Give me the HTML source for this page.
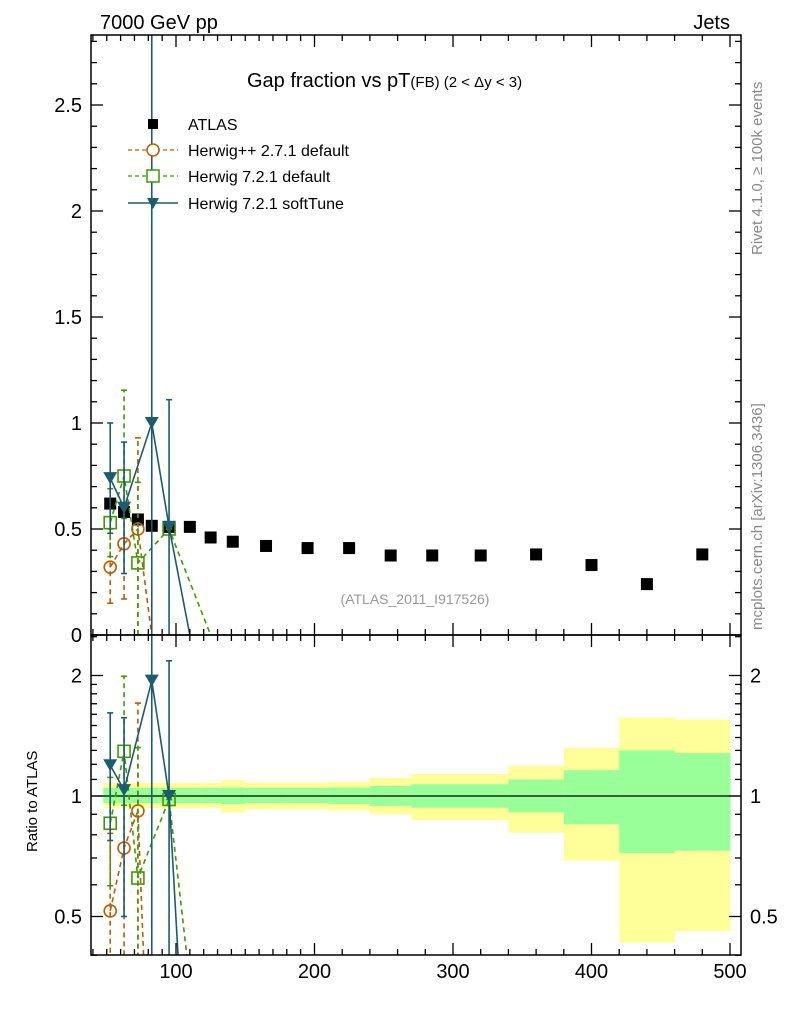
<!DOCTYPE html>
<html><head><meta charset="utf-8"><style>
html,body{margin:0;background:#fff;width:786px;height:1024px;overflow:hidden}
svg{display:block;font-family:"Liberation Sans",sans-serif}
</style></head><body>
<svg id="chart" width="786" height="1024" viewBox="0 0 786 1024" xmlns="http://www.w3.org/2000/svg">
<defs>
<clipPath id="cm"><rect x="91" y="35" width="650" height="600"/></clipPath>
<clipPath id="cr"><rect x="91" y="635" width="650" height="320"/></clipPath>
</defs>
<g id="bands" clip-path="url(#cr)"></g>
<g id="mainmarks" clip-path="url(#cm)"></g>
<g id="ratiomarks" clip-path="url(#cr)"></g>
<rect x="91" y="35" width="650" height="600" fill="none" stroke="#000" stroke-width="1.5"/>
<rect x="91" y="635" width="650" height="320" fill="none" stroke="#000" stroke-width="1.5"/>
<g id="ticks"></g>
<text x="100" y="29" font-size="20">7000 GeV pp</text>
<text x="730" y="29" font-size="20" text-anchor="end">Jets</text>
<text x="247" y="87" font-size="20">Gap fraction vs pT<tspan font-size="15">(FB)</tspan><tspan font-size="15"> (2 &lt; Δy &lt; 3)</tspan></text>
<text x="415" y="604" font-size="14" fill="#999" text-anchor="middle">(ATLAS_2011_I917526)</text>
<text transform="translate(762,255) rotate(-90)" font-size="15" fill="#888">Rivet 4.1.0, ≥ 100k events</text>
<text transform="translate(762,630) rotate(-90)" font-size="15" fill="#888">mcplots.cern.ch [arXiv:1306.3436]</text>
<text transform="translate(37,852) rotate(-90)" font-size="15">Ratio to ATLAS</text>
<g>
<rect x="148" y="119" width="10" height="10" fill="#000"/>
<text x="188" y="130" font-size="16">ATLAS</text>
<line x1="128" y1="150" x2="178" y2="150" stroke="#c05a00" stroke-dasharray="4,3" stroke-width="1.3"/>
<circle cx="153" cy="150" r="6" fill="#fff" stroke="#c05a00" stroke-width="1.5"/>
<text x="188" y="156" font-size="16">Herwig++ 2.7.1 default</text>
<line x1="128" y1="176" x2="178" y2="176" stroke="#3d9b00" stroke-dasharray="4,3" stroke-width="1.3"/>
<rect x="147" y="170" width="12" height="12" fill="#fff" stroke="#3d9b00" stroke-width="1.5"/>
<text x="188" y="182" font-size="16">Herwig 7.2.1 default</text>
<line x1="128" y1="203" x2="178" y2="203" stroke="#1d5b6f" stroke-width="1.5"/>
<polygon points="147,198 159,198 153,209" fill="#1d5b6f"/>
<text x="188" y="209" font-size="16">Herwig 7.2.1 softTune</text>
</g>
</svg>
<script>
// ---- data ----
const binEdges=[47.5,57.5,67.5,77.5,87.5,102.5,117.5,132.5,150,180,210,240,270,300,340,380,420,460,500];
const atlasX=[52.5,62.5,72.5,82.5,95,110,125,141,165,195,225,255,285,320,360,400,440,480];
const atlasY=[0.62,0.58,0.545,0.515,0.51,0.51,0.46,0.44,0.42,0.41,0.41,0.375,0.375,0.375,0.38,0.33,0.24,0.38];
const yellowUp=[1.078,1.078,1.078,1.078,1.078,1.078,1.078,1.095,1.08,1.08,1.085,1.11,1.135,1.135,1.19,1.32,1.57,1.55];
const yellowDn=[0.933,0.933,0.933,0.933,0.933,0.933,0.933,0.91,0.925,0.925,0.92,0.90,0.87,0.87,0.81,0.69,0.43,0.46];
const greenUp=[1.047,1.047,1.047,1.047,1.047,1.047,1.047,1.05,1.047,1.047,1.05,1.06,1.07,1.07,1.10,1.16,1.30,1.28];
const greenDn=[0.96,0.96,0.96,0.96,0.96,0.96,0.96,0.955,0.96,0.96,0.955,0.945,0.935,0.935,0.91,0.85,0.72,0.73];
const hppX=[52.5,62.5,72.5,82.5];
const hppY=[0.32,0.43,0.50,0.0];
const hppLo=[0.15,0.17,0.0,0.0];
const hppHi=[0.50,0.60,0.93,0.0];
const h7X=[52.5,62.5,72.5,95,125];
const h7Y=[0.53,0.75,0.34,0.50,0.0];
const h7Lo=[0.37,0.55,0.0,0.50,0.0];
const h7Hi=[0.69,1.155,0.72,0.50,0.0];
const stX=[52.5,62.5,82.5,95,110];
const stY=[0.74,0.60,1.0,0.51,0.0];
const stLo=[0.48,0.29,0.0,0.0,0.0];
const stHi=[1.0,0.91,3.0,1.11,0.0];
const yMainTicks=[0,0.5,1,1.5,2,2.5];
const yMainLabels=["0","0.5","1","1.5","2","2.5"];
const xTicks=[100,200,300,400,500];
const xLabels=["100","200","300","400","500"];
const rTicks=[0.5,1,2];
const rLabels=["0.5","1","2"];
// ---- axes ----
const X=v=>37.5+v*1.385;
const Ym=v=>635-v*212;
const Yr=v=>796-Math.log2(Math.max(v,0.12))*120.5;
const NS="http://www.w3.org/2000/svg";
function mk(tag,attrs,parent){const e=document.createElementNS(NS,tag);for(const k in attrs)e.setAttribute(k,attrs[k]);parent.appendChild(e);return e;}
const bands=document.getElementById('bands');
for(let i=0;i<binEdges.length-1;i++){
 const x1=X(binEdges[i]),x2=X(binEdges[i+1]);
 const y=mk('rect',{x:x1,y:Yr(yellowUp[i]),width:x2-x1+0.5,height:Yr(yellowDn[i])-Yr(yellowUp[i]),fill:'#ffff99'},bands);
 
 
 const g=mk('rect',{x:x1,y:Yr(greenUp[i]),width:x2-x1+0.5,height:Yr(greenDn[i])-Yr(greenUp[i]),fill:'#99ff99'},bands);
 
 
}
const unity=mk('line',{x1:91,x2:741,y1:Yr(1),y2:Yr(1),stroke:'#000','stroke-width':1.3},bands);


function atlasAt(x){return atlasY[atlasX.indexOf(x)];}
function drawSeries(parent,xs,ys,lo,hi,color,dash,marker,Yf,ratio,name){
 const g=mk('g',{},parent);
 
 
 const val=(v,i)=>ratio?v/atlasAt(xs[i]):v;
 const pts=xs.map((x,i)=>X(x)+','+Yf(val(ys[i],i))).join(' ');
 const pl=mk('polyline',{points:pts,fill:'none',stroke:color,'stroke-width':1.6},g);
 if(dash)pl.setAttribute('stroke-dasharray','5,4');
 xs.forEach((x,i)=>{
  if(ys[i]<=0)return;
  const cx=X(x),cy=Yf(val(ys[i],i)),a=Yf(val(lo[i],i)),b=Yf(val(hi[i],i));
  const eb=mk('line',{x1:cx,x2:cx,y1:a,y2:b,stroke:color,'stroke-width':1.6},g);
  if(dash)eb.setAttribute('stroke-dasharray','5,4');
  mk('line',{x1:cx-3,x2:cx+3,y1:a,y2:a,stroke:color,'stroke-width':1.6},g);
  mk('line',{x1:cx-3,x2:cx+3,y1:b,y2:b,stroke:color,'stroke-width':1.6},g);
  let m;
  if(marker==='circle')m=mk('circle',{cx:cx,cy:cy,r:6,fill:'none',stroke:color,'stroke-width':1.6},g);
  else if(marker==='square')m=mk('rect',{x:cx-6,y:cy-6,width:12,height:12,fill:'none',stroke:color,'stroke-width':1.6},g);
  else m=mk('polygon',{points:`${cx-7},${cy-6} ${cx+7},${cy-6} ${cx},${cy+6}`,fill:color},g);
  
  
 });
}
const mm=document.getElementById('mainmarks');
atlasX.forEach((x,i)=>{
 const r=mk('rect',{x:X(x)-6,y:Ym(atlasY[i])-6,width:12,height:12,fill:'#000'},mm);
 
 
});
drawSeries(mm,hppX,hppY,hppLo,hppHi,'#c05a00',true,'circle',Ym,false,'herwigpp-series');
drawSeries(mm,h7X,h7Y,h7Lo,h7Hi,'#3d9b00',true,'square',Ym,false,'herwig721-series');
drawSeries(mm,stX,stY,stLo,stHi,'#1d5b6f',false,'tri',Ym,false,'softtune-series');
const rm=document.getElementById('ratiomarks');
drawSeries(rm,hppX,hppY,hppLo,hppHi,'#c05a00',true,'circle',Yr,true,'herwigpp-ratio');
drawSeries(rm,h7X,h7Y,h7Lo,h7Hi,'#3d9b00',true,'square',Yr,true,'herwig721-ratio');
drawSeries(rm,stX,stY,stLo,stHi,'#1d5b6f',false,'tri',Yr,true,'softtune-ratio');
// ---- ticks ----
const tk=document.getElementById('ticks');
function tl(x1,y1,x2,y2){mk('line',{x1:x1,y1:y1,x2:x2,y2:y2,stroke:'#000','stroke-width':1.3},tk);}
function lab(x,y,t,anchor,name){const e=mk('text',{x:x,y:y,'font-size':20,'text-anchor':anchor},tk);e.textContent=t;}
for(let k=0;k<=28;k++){const v=k/10;const y=Ym(v);const maj=(k%5===0);const L=maj?12:6;tl(91,y,91+L,y);tl(741,y,741-L,y);}
yMainTicks.forEach((v,i)=>lab(82,Ym(v)+7,yMainLabels[i],'end','y-tick-label'));
for(let v=40;v<=500;v+=(v<200?10:20)){const x=X(v);const maj=v%100===0;const L=maj?12:6;
 tl(x,955,x,955-L);tl(x,635,x,635-L);tl(x,635,x,635+L);tl(x,35,x,35+L);}
xTicks.forEach((v,i)=>lab(X(v),978,xLabels[i],'middle','x-tick-label'));
const rMinor=[0.4,0.5,0.6,0.7,0.8,0.9,1,1.1,1.2,1.3,1.4,1.5,1.6,1.7,1.8,1.9,2,2.5];
rMinor.forEach(v=>{const y=Yr(v);const maj=rTicks.includes(v);const L=maj?12:6;tl(91,y,91+L,y);tl(741,y,741-L,y);});
rTicks.forEach((v,i)=>{lab(82,Yr(v)+7,rLabels[i],'end','ratio-tick-label-left');lab(750,Yr(v)+7,rLabels[i],'start','ratio-tick-label-right');});
</script>
</body></html>
